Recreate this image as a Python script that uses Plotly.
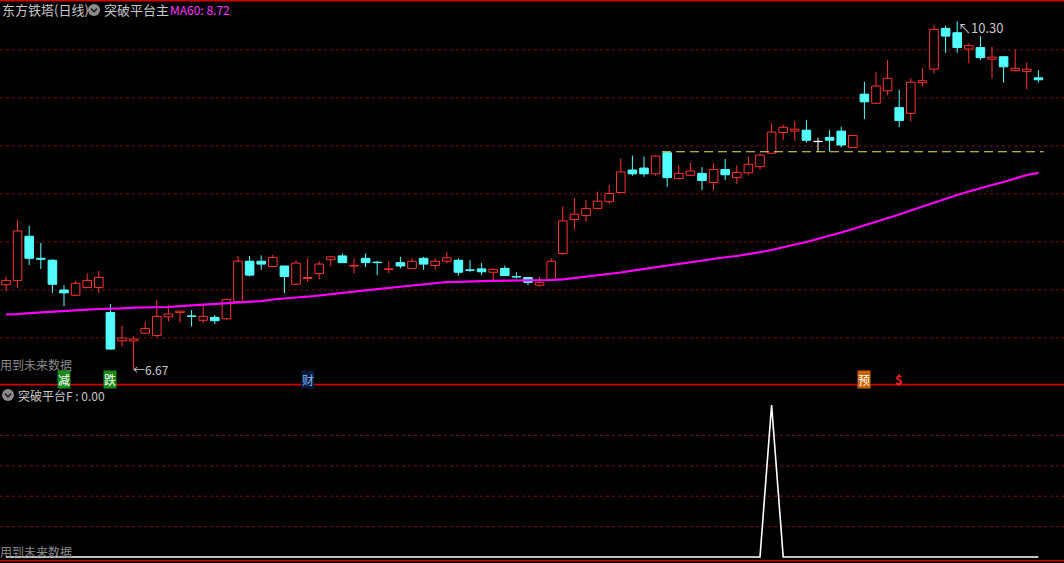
import plotly.graph_objects as go

W, H = 1064, 563

# ---------------- data ----------------
bars = list(range(90))

open_ = [7.555, 7.60, 8.06, 7.83, 7.81, 7.50, 7.445, 7.525, 7.525, 7.265,
         6.97, 6.97, 7.05, 7.025, 7.22, 7.265, 7.23, 7.185, 7.215, 7.20,
         7.38, 7.80, 7.80, 7.745, 7.75, 7.56, 7.62, 7.67, 7.815, 7.855,
         7.75, 7.83, 7.79, 7.715, 7.785, 7.725, 7.83, 7.755, 7.80, 7.81,
         7.71, 7.72, 7.685, 7.725, 7.64, 7.63, 7.55, 7.605, 7.88, 8.235,
         8.275, 8.35, 8.42, 8.515, 8.75, 8.77, 8.71, 8.93, 8.66, 8.695,
         8.715, 8.62, 8.755, 8.67, 8.72, 8.785, 8.925, 9.14, 9.155, 9.165,
         9.045, 9.09, 9.155, 8.985, 9.54, 9.445, 9.575, 9.40, 9.34, 9.66,
         9.80, 10.225, 10.18, 10.01, 10.025, 9.905, 9.93, 9.785, 9.775, 9.71]
high_ = [7.635, 8.23, 8.17, 7.99, 7.82, 7.55, 7.595, 7.675, 7.70, 7.355,
         7.13, 7.015, 7.17, 7.395, 7.345, 7.285, 7.29, 7.345, 7.24, 7.41,
         7.855, 7.855, 7.86, 7.865, 7.75, 7.81, 7.83, 7.80, 7.855, 7.88,
         7.83, 7.88, 7.805, 7.80, 7.845, 7.83, 7.845, 7.83, 7.90, 7.83,
         7.81, 7.78, 7.725, 7.755, 7.685, 7.63, 7.64, 7.83, 8.37, 8.455,
         8.44, 8.525, 8.595, 8.87, 8.90, 8.89, 8.905, 8.94, 8.80, 8.825,
         8.78, 8.82, 8.865, 8.80, 8.89, 8.925, 9.235, 9.22, 9.26, 9.27,
         9.085, 9.165, 9.20, 9.115, 9.67, 9.77, 9.895, 9.585, 9.705, 9.81,
         10.26, 10.255, 10.30, 10.07, 10.145, 10.035, 9.93, 10.005, 9.87, 9.79]
low_ = [7.49, 7.52, 7.76, 7.72, 7.47, 7.33, 7.44, 7.52, 7.47, 6.88,
        6.91, 6.67, 7.04, 7.01, 7.17, 7.16, 7.12, 7.155, 7.145, 7.19,
        7.37, 7.64, 7.71, 7.74, 7.465, 7.55, 7.585, 7.61, 7.75, 7.78,
        7.675, 7.74, 7.655, 7.675, 7.725, 7.72, 7.71, 7.71, 7.78, 7.65,
        7.685, 7.655, 7.605, 7.645, 7.62, 7.55, 7.535, 7.60, 7.865, 8.13,
        8.21, 8.34, 8.40, 8.51, 8.69, 8.68, 8.69, 8.575, 8.65, 8.69,
        8.54, 8.54, 8.645, 8.605, 8.70, 8.755, 8.92, 9.06, 9.055, 9.035,
        8.94, 8.94, 8.985, 8.985, 9.28, 9.44, 9.53, 9.195, 9.255, 9.62,
        9.755, 9.97, 9.97, 9.86, 9.895, 9.705, 9.66, 9.775, 9.59, 9.66]
close_ = [7.60, 8.115, 7.83, 7.82, 7.56, 7.47, 7.57, 7.60, 7.63, 6.885,
          7.00, 6.99, 7.10, 7.225, 7.25, 7.28, 7.225, 7.225, 7.18, 7.40,
          7.80, 7.655, 7.77, 7.84, 7.64, 7.78, 7.63, 7.77, 7.845, 7.785,
          7.755, 7.785, 7.785, 7.72, 7.75, 7.80, 7.77, 7.80, 7.835, 7.685,
          7.705, 7.69, 7.715, 7.65, 7.635, 7.58, 7.58, 7.80, 8.22, 8.29,
          8.35, 8.425, 8.505, 8.73, 8.71, 8.71, 8.895, 8.67, 8.715, 8.74,
          8.64, 8.755, 8.70, 8.725, 8.81, 8.905, 9.145, 9.195, 9.175, 9.06,
          9.045, 9.06, 9.01, 9.11, 9.46, 9.625, 9.705, 9.265, 9.665, 9.68,
          10.215, 10.145, 10.025, 10.045, 9.92, 9.925, 9.825, 9.81, 9.80, 9.69]
ma60 = [7.245, 7.248, 7.26, 7.268, 7.278, 7.285, 7.292, 7.296, 7.302, 7.304,
        7.309, 7.316, 7.316, 7.318, 7.323, 7.333, 7.341, 7.347, 7.354, 7.361,
        7.368, 7.376, 7.385, 7.401, 7.414, 7.422, 7.430, 7.445, 7.458, 7.471,
        7.483, 7.496, 7.507, 7.521, 7.534, 7.547, 7.559, 7.572, 7.583, 7.585,
        7.586, 7.592, 7.596, 7.597, 7.597, 7.597, 7.597, 7.604, 7.611, 7.625,
        7.639, 7.651, 7.664, 7.682, 7.701, 7.719, 7.736, 7.754, 7.771, 7.792,
        7.813, 7.826, 7.841, 7.854, 7.872, 7.894, 7.917, 7.948, 7.974, 8.0,
        8.031, 8.063, 8.099, 8.135, 8.172, 8.208, 8.245, 8.286, 8.328, 8.370,
        8.411, 8.448, 8.490, 8.526, 8.563, 8.594, 8.625, 8.661, 8.698, 8.72]
signal_f = [0, 0, 0, 0, 0, 0, 0, 0, 0, 0,
            0, 0, 0, 0, 0, 0, 0, 0, 0, 0,
            0, 0, 0, 0, 0, 0, 0, 0, 0, 0,
            0, 0, 0, 0, 0, 0, 0, 0, 0, 0,
            0, 0, 0, 0, 0, 0, 0, 0, 0, 0,
            0, 0, 0, 0, 0, 0, 0, 0, 0, 0,
            0, 0, 0, 0, 0, 0, 1, 0, 0, 0,
            0, 0, 0, 0, 0, 0, 0, 0, 0, 0,
            0, 0, 0, 0, 0, 0, 0, 0, 0, 0]

platform_level = 8.94
platform_start = 57
low_bar, low_value = 11, 6.67
high_bar, high_value = 82, 10.30
price_grid = [7.0, 7.5, 8.0, 8.5, 9.0, 9.5, 10.0]
ind_grid = [0.2, 0.4, 0.6, 0.8]
signal_marks = [("减", 5, "#ffffff", "#1a8a1a"),
                ("跌", 9, "#ffffff", "#1a8a1a"),
                ("财", 26, "#7fb8ff", "#0a1a3a"),
                ("预", 74, "#ffffff", "#c86400"),
                ("$", 77, "#ff2020", "rgba(0,0,0,0)")]
title_main = "东方铁塔(日线)"
ind_main = "突破平台主"
ind_sub = "突破平台F"
future_txt = "用到未来数据"

# ---------------- styling ----------------
RED = "#ff3232"
CYAN = "#54ffff"
WHITE = "#ffffff"
GRID = "#7a1414"
SEP = "#d00000"
TXT = "#c8c8c8"
FONT = "Noto Sans CJK SC, Noto Sans, sans-serif"
BODY_W = 0.74
FLAT_H = 0.004  # minimal drawn body height for doji crosses


def px(x):
    return x / W


def py(y):
    return 1 - y / H


# ---------------- candles (bodies as bars, wicks as line segments) ----------------
body_base, body_h, fill_c, edge_c = [], [], [], []
wick_x = {RED: [], CYAN: [], WHITE: []}
wick_y = {RED: [], CYAN: [], WHITE: []}
for i, o, h, l, c in zip(bars, open_, high_, low_, close_):
    col = RED if c > o else (CYAN if c < o else WHITE)
    top, bot = max(o, c), min(o, c)
    body_base.append(bot)
    body_h.append(max(top - bot, FLAT_H))
    fill_c.append("#000000" if col == RED else col)
    edge_c.append(col)
    if h > top:
        wick_x[col] += [i, i, None]
        wick_y[col] += [top, h, None]
    if l < bot:
        wick_x[col] += [i, i, None]
        wick_y[col] += [l, bot, None]

fig = go.Figure()
for col in (RED, CYAN, WHITE):
    fig.add_trace(go.Scatter(x=wick_x[col], y=wick_y[col], mode="lines",
                             line=dict(color=col, width=1), xaxis="x", yaxis="y",
                             hoverinfo="skip"))

fig.add_trace(go.Bar(x=bars, y=body_h, base=body_base, width=BODY_W,
                     marker=dict(color=fill_c, line=dict(color=edge_c, width=1)),
                     xaxis="x", yaxis="y", hoverinfo="skip"))

fig.add_trace(go.Scatter(x=bars, y=ma60, mode="lines",
                         line=dict(color="#ff00ff", width=2.2),
                         xaxis="x", yaxis="y", hoverinfo="skip"))

fig.add_trace(go.Scatter(x=[platform_start - 0.45, bars[-1] + 0.45],
                         y=[platform_level, platform_level], mode="lines",
                         line=dict(color="#e6e650", width=1.2, dash="9px,5px"),
                         xaxis="x", yaxis="y", hoverinfo="skip"))

fig.add_trace(go.Scatter(x=bars, y=signal_f, mode="lines",
                         line=dict(color="#ffffff", width=1.6),
                         xaxis="x2", yaxis="y2", hoverinfo="skip"))

xr = [-6 / 11.6, (W - 6) / 11.6]
axis_common = dict(showgrid=False, zeroline=False, showticklabels=False,
                   ticks="", showline=False, fixedrange=True)
fig.update_layout(
    width=W, height=H,
    margin=dict(l=0, r=0, t=0, b=0),
    paper_bgcolor="#000000", plot_bgcolor="#000000",
    showlegend=False, barmode="overlay",
    xaxis=dict(domain=[0, 1], range=xr, anchor="y", **axis_common),
    xaxis2=dict(domain=[0, 1], range=xr, anchor="y2", matches="x", **axis_common),
    yaxis=dict(domain=[py(384), py(2)], range=[10 - 334 / 96, 10 + 48 / 96],
               anchor="x", **axis_common),
    yaxis2=dict(domain=[py(561), py(386)], range=[-4 / 152, 171 / 152],
                anchor="x2", **axis_common),
    font=dict(family=FONT, color=TXT, size=12),
)

shapes = []
for g in price_grid:
    shapes.append(dict(type="line", xref="paper", yref="y", x0=0, x1=1, y0=g, y1=g,
                       line=dict(color=GRID, width=1, dash="dot"), layer="below"))
for g in ind_grid:
    shapes.append(dict(type="line", xref="paper", yref="y2", x0=0, x1=1, y0=g, y1=g,
                       line=dict(color=GRID, width=1, dash="dot"), layer="below"))
for yy in (0.8, 384.6, 560.8):
    shapes.append(dict(type="line", xref="paper", yref="paper", x0=0, x1=1,
                       y0=py(yy), y1=py(yy), line=dict(color=SEP, width=1.6)))
# collapse icons
for cx, cy in ((94, 10), (8, 395)):
    shapes.append(dict(type="circle", xref="paper", yref="paper",
                       x0=px(cx - 6), x1=px(cx + 6), y0=py(cy + 6), y1=py(cy - 6),
                       fillcolor="#8c8c8c", line=dict(width=0)))
    shapes.append(dict(type="path", xref="paper", yref="paper",
                       path=f"M {px(cx-3)},{py(cy-1.5)} L {px(cx)},{py(cy+1.8)} L {px(cx+3)},{py(cy-1.5)}",
                       line=dict(color="#1e1e1e", width=1.6)))
fig.update_layout(shapes=shapes)

ann = []


def label(text, x, y, color=TXT, size=12, xref="paper", yref="paper", **kw):
    ann.append(dict(text=text, x=x, y=y, xref=xref, yref=yref, showarrow=False,
                    xanchor=kw.pop("xanchor", "left"), yanchor=kw.pop("yanchor", "middle"),
                    font=dict(color=color, size=size, family=FONT), **kw))


label(title_main, px(0), py(10), size=13)
label(ind_main, px(102), py(10), size=13)
label(f"MA60: {ma60[-1]:.2f}", px(168), py(10), color="#ff33ff", size=12)
label(f"{ind_sub} : {signal_f[-1]:.2f}", px(16), py(395), size=12)
label(future_txt, px(-2), py(364.5), color="#8a8a8a", size=12)
label(future_txt, px(-2), py(551), color="#8a8a8a", size=12)
label(f"←{low_value:.2f}", low_bar - 0.2, low_value, xref="x", yref="y",
      yshift=0, xanchor="left", yanchor="middle")
label(f"↖{high_value:.2f}", high_bar - 0.1, high_value, xref="x", yref="y",
      yshift=-6, xanchor="left", yanchor="middle", size=13)
for t, b, fc, bg in signal_marks:
    label(f"<b>{t}</b>" if t == "$" else t, b, py(379), color=fc,
          size=13 if t == "$" else 12, xref="x", xanchor="center",
          bgcolor=bg, borderpad=0)
fig.update_layout(annotations=ann)

fig.write_html("out.html", config={"displayModeBar": False},
               post_script="document.body.style.margin='0';document.body.style.overflow='hidden';")
